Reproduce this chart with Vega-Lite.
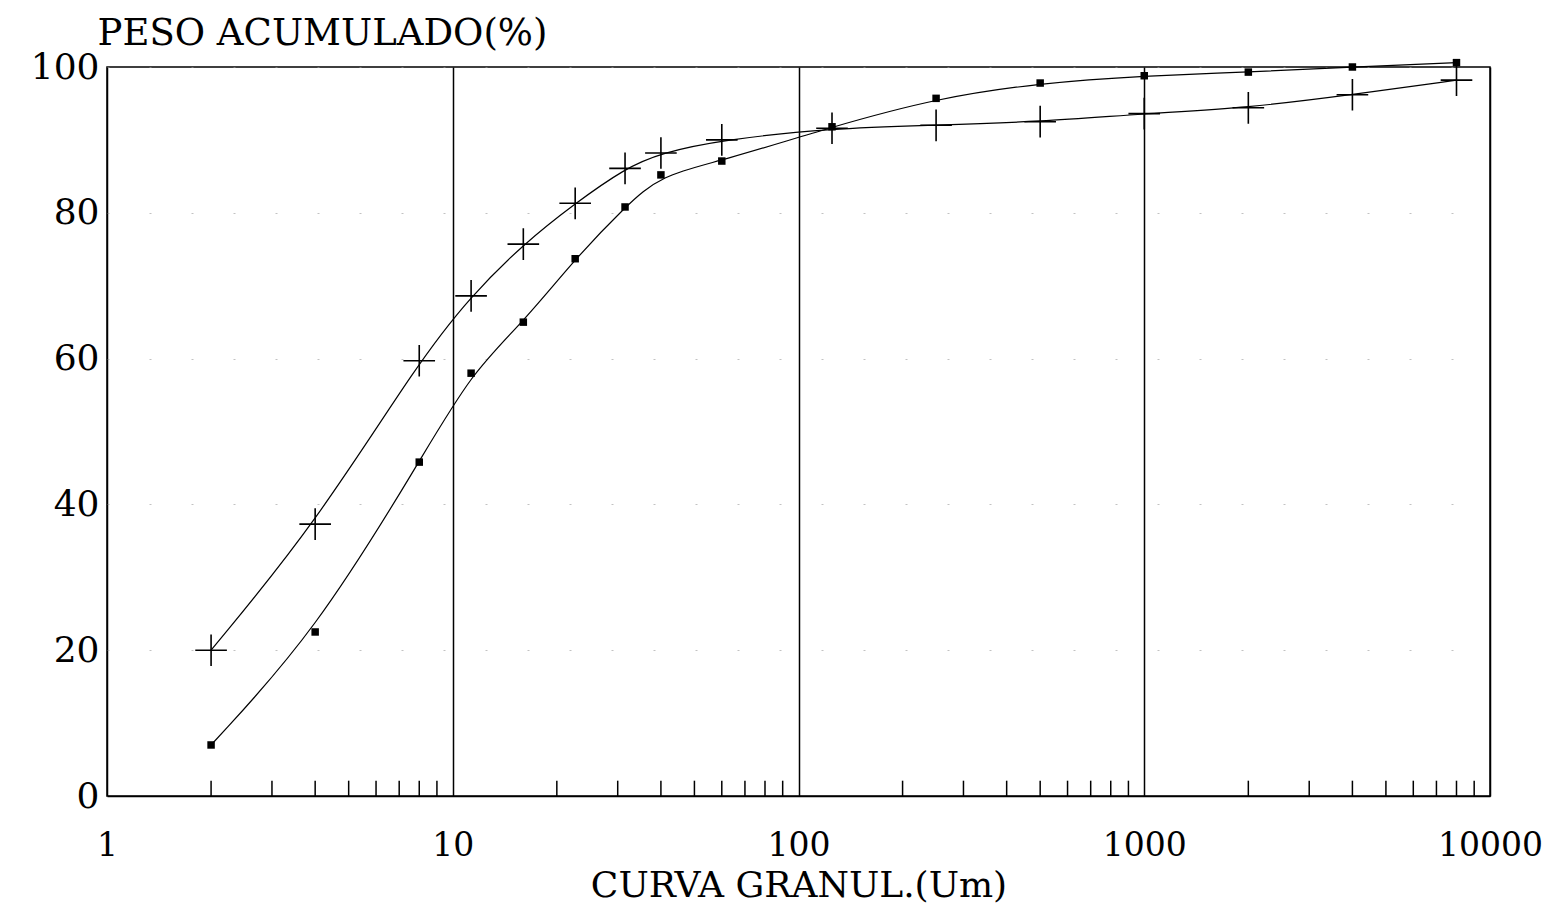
{
  "$schema": "https://vega.github.io/schema/vega-lite/v6.json",
  "autosize": "none",
  "width": 1383,
  "height": 729,
  "padding": {"left": 107, "top": 67, "right": 64, "bottom": 115},
  "background": "white",
  "config": {
    "view": {"stroke": "black", "strokeWidth": 1.5},
    "font": "DejaVu Serif",
    "axis": {"labelFont": "DejaVu Serif", "titleFont": "DejaVu Serif", "labelColor": "black", "titleColor": "black", "titleFontWeight": "normal"}
  },
  "datasets": {
    "points": [
      {"size_um": 2, "peso": 20.0, "serie": "cruz"},
      {"size_um": 4, "peso": 37.3, "serie": "cruz"},
      {"size_um": 8, "peso": 59.7, "serie": "cruz"},
      {"size_um": 11.3, "peso": 68.6, "serie": "cruz"},
      {"size_um": 16, "peso": 75.7, "serie": "cruz"},
      {"size_um": 22.6, "peso": 81.3, "serie": "cruz"},
      {"size_um": 31.5, "peso": 86.1, "serie": "cruz"},
      {"size_um": 40, "peso": 88.2, "serie": "cruz"},
      {"size_um": 60, "peso": 90.0, "serie": "cruz"},
      {"size_um": 125, "peso": 91.6, "serie": "cruz"},
      {"size_um": 250, "peso": 92.0, "serie": "cruz"},
      {"size_um": 500, "peso": 92.5, "serie": "cruz"},
      {"size_um": 1000, "peso": 93.6, "serie": "cruz"},
      {"size_um": 2000, "peso": 94.4, "serie": "cruz"},
      {"size_um": 4000, "peso": 96.2, "serie": "cruz"},
      {"size_um": 8000, "peso": 98.2, "serie": "cruz"},
      {"size_um": 2, "peso": 7.0, "serie": "cuadrado"},
      {"size_um": 4, "peso": 22.5, "serie": "cuadrado"},
      {"size_um": 8, "peso": 45.8, "serie": "cuadrado"},
      {"size_um": 11.3, "peso": 58.0, "serie": "cuadrado"},
      {"size_um": 16, "peso": 65.0, "serie": "cuadrado"},
      {"size_um": 22.6, "peso": 73.7, "serie": "cuadrado"},
      {"size_um": 31.5, "peso": 80.8, "serie": "cuadrado"},
      {"size_um": 40, "peso": 85.2, "serie": "cuadrado"},
      {"size_um": 60, "peso": 87.1, "serie": "cuadrado"},
      {"size_um": 125, "peso": 91.8, "serie": "cuadrado"},
      {"size_um": 250, "peso": 95.7, "serie": "cuadrado"},
      {"size_um": 500, "peso": 97.8, "serie": "cuadrado"},
      {"size_um": 1000, "peso": 98.8, "serie": "cuadrado"},
      {"size_um": 2000, "peso": 99.3, "serie": "cuadrado"},
      {"size_um": 4000, "peso": 100.0, "serie": "cuadrado"},
      {"size_um": 8000, "peso": 100.6, "serie": "cuadrado"}
    ],
    "minor": [
      {"v": 2}, {"v": 3}, {"v": 4}, {"v": 5}, {"v": 6}, {"v": 7}, {"v": 8}, {"v": 9},
      {"v": 20}, {"v": 30}, {"v": 40}, {"v": 50}, {"v": 60}, {"v": 70}, {"v": 80}, {"v": 90},
      {"v": 200}, {"v": 300}, {"v": 400}, {"v": 500}, {"v": 600}, {"v": 700}, {"v": 800}, {"v": 900},
      {"v": 2000}, {"v": 3000}, {"v": 4000}, {"v": 5000}, {"v": 6000}, {"v": 7000}, {"v": 8000}, {"v": 9000}
    ]
  },
  "layer": [
    {
      "data": {"name": "points"},
      "mark": {"type": "line", "interpolate": "basis", "color": "black", "strokeWidth": 1.2, "clip": false},
      "encoding": {
        "x": {
          "field": "size_um",
          "type": "quantitative",
          "scale": {"type": "log", "domain": [1, 10000], "nice": false},
          "axis": {
            "values": [1, 10, 100, 1000, 10000],
            "format": "d",
            "title": "CURVA GRANUL.(Um)",
            "grid": true,
            "gridColor": "black",
            "gridOpacity": 1,
            "gridWidth": 1.5,
            "ticks": false,
            "domainColor": "black",
            "domainWidth": 1.5,
            "labelFontSize": 33,
            "labelPadding": 33,
            "labelFlush": false,
            "titleFontSize": 36,
            "titlePadding": 6
          }
        },
        "y": {
          "field": "peso",
          "type": "quantitative",
          "scale": {"domain": [0, 100], "nice": false},
          "axis": {
            "values": [0, 20, 40, 60, 80, 100],
            "title": "PESO ACUMULADO(%)",
            "titleAngle": 0,
            "titleAlign": "left",
            "titleBaseline": "middle",
            "titleX": -10,
            "titleY": -34,
            "titleFontSize": 37,
            "grid": true,
            "gridColor": "#999999",
            "gridDash": [2, 40],
            "gridOpacity": 0.6,
            "ticks": false,
            "domain": false,
            "labelFontSize": 36,
            "labelPadding": 8,
            "labelFlush": false
          }
        },
        "detail": {"field": "serie", "type": "nominal"}
      }
    },
    {
      "data": {"name": "minor"},
      "mark": {"type": "rule", "color": "black", "strokeWidth": 1.5},
      "encoding": {
        "x": {"field": "v", "type": "quantitative"},
        "y": {"datum": 0, "type": "quantitative"},
        "y2": {"datum": 2.1}
      }
    },
    {
      "data": {"name": "points"},
      "transform": [{"filter": "datum.serie === 'cruz'"}],
      "mark": {"type": "point", "shape": "M-1,0H1M0,-1V1", "filled": false, "stroke": "black", "strokeWidth": 1.6, "size": 1000, "opacity": 1, "clip": false},
      "encoding": {
        "x": {"field": "size_um", "type": "quantitative"},
        "y": {"field": "peso", "type": "quantitative"}
      }
    },
    {
      "data": {"name": "points"},
      "transform": [{"filter": "datum.serie === 'cuadrado'"}],
      "mark": {"type": "square", "color": "black", "size": 56, "opacity": 1, "clip": false},
      "encoding": {
        "x": {"field": "size_um", "type": "quantitative"},
        "y": {"field": "peso", "type": "quantitative"}
      }
    }
  ]
}
